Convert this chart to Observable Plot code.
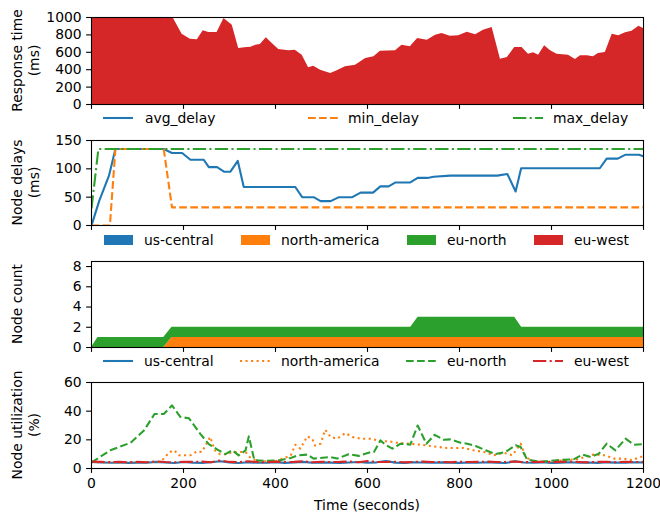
<!DOCTYPE html>
<html><head><meta charset="utf-8">
<script src="https://cdn.jsdelivr.net/npm/d3@7"></script>
<script src="https://cdn.jsdelivr.net/npm/@observablehq/plot@0.6"></script>
<style>
body{margin:0;background:#fff;}
#chart{position:relative;width:660px;height:514px;font-family:"DejaVu Sans";}
#chart svg text{font-family:"DejaVu Sans";font-size:13.9px;}
</style></head><body><div id="chart"></div>
<script>
// ---------- data ----------
const regions = ["us-central", "north-america", "eu-north", "eu-west"];
const regionColors = ["#1f77b4", "#ff7f0e", "#2ca02c", "#d62728"];
const xTicks = [0, 200, 400, 600, 800, 1000, 1200];

// Panel 1: response time (ms)
const respT = [0,20,40,60,80,100,120,145,157,175,197,215,230,243,255,273,288,306,320,338,347,357,367,380,393,407,429,443,458,472,483,498,520,534,552,574,596,614,628,661,675,693,709,730,748,762,780,798,817,835,852,871,889,904,920,936,950,961,972,985,998,1012,1037,1052,1063,1078,1091,1102,1117,1132,1146,1161,1175,1190,1200];
const respV = [1150,1150,1150,1150,1150,1150,1150,1150,985,1020,808,751,743,847,828,828,988,912,644,655,659,682,690,766,701,632,617,625,567,421,441,395,356,387,433,452,529,548,613,617,682,663,759,739,797,816,785,789,831,801,854,885,521,540,655,655,579,594,567,674,617,579,567,517,559,559,548,586,598,808,789,824,843,900,874];
const respTicks = [0, 200, 400, 600, 800, 1000];

// Panel 2: node delays (ms)
const avgT = [0,17,38,52,157,175,197,215,244,255,273,288,302,318,331,443,458,483,498,520,538,567,585,612,628,646,661,693,709,730,744,780,882,904,922,934,1105,1120,1144,1161,1190,1200];
const avgV = [0,44,88,135,135,128,128,116,116,103,103,95,95,114,68,68,50,50,43,43,50,50,58,58,69,69,76,76,84,84,86,88,88,91,60,101,101,118,118,125,125,122];
const minT = [0,40,52,157,175,1200];
const minV = [0,0,135,135,32,32];
const maxT = [0,15,1200];
const maxV = [30,135,135];
const delayTicks = [0, 50, 100, 150];

// Panel 3: node count (stacked)
const countT = [0,14,157,175,694,710,920,935,1200];
const countUsCentral = [0,0,0,0,0,0,0,0,0];
const countNorthAmerica = [0,0,0,1,1,1,1,1,1];
const countEuNorth = [0,1,1,1,1,2,2,1,1];
const countEuWest = [0,0,0,0,0,0,0,0,0];
const countTicks = [0, 2, 4, 6, 8];

// Panel 4: node utilization (%)
const utilT = [0,20,40,60,80,100,120,140,160,180,200,220,240,260,280,300,320,340,360,380,400,420,440,460,480,500,520,540,560,580,600,620,640,660,680,700,720,740,760,780,800,820,840,860,880,900,920,940,960,980,1000,1020,1040,1060,1080,1100,1120,1140,1160,1180,1200];
const utilUsCentral = [4.5,4.3,4.0,4.2,3.9,4.1,4.0,4.6,4.2,3.8,4.5,4.1,3.9,4.4,5.0,4.2,3.8,4.3,4.1,4.0,4.4,3.9,4.2,4.6,4.0,4.3,4.1,3.8,4.2,4.5,4.0,4.3,5.2,4.1,3.9,4.4,4.2,4.0,4.3,4.1,3.9,4.2,4.0,4.4,4.1,3.8,5.0,4.2,4.0,4.3,3.9,4.1,4.4,4.0,4.2,3.9,4.3,4.1,4.0,4.4,4.2];
const utilEuWest = [4.8,4.6,4.5,4.7,4.3,4.6,4.4,4.9,4.5,4.3,4.7,4.6,4.8,4.4,5.6,4.6,4.4,5.0,4.5,4.3,4.8,4.5,4.6,5.0,4.4,4.7,4.5,4.6,4.9,4.4,5.2,4.6,4.5,4.7,4.3,4.6,4.8,4.5,4.6,4.4,4.7,4.5,4.6,4.8,4.5,4.6,4.9,4.4,4.5,4.7,4.4,4.6,4.8,4.5,4.3,4.6,4.7,4.4,4.6,4.5,4.6];
const naT = [0,40,80,120,150,170,180,190,205,215,230,240,246,258,268,279,293,307,320,335,344,360,400,433,443,454,469,480,486,498,508,520,534,552,567,585,607,628,646,664,693,715,737,773,809,831,853,875,896,915,933,944,962,991,1027,1056,1092,1117,1136,1157,1175,1200];
const naV = [4.5,4.2,4.3,4.4,4.6,11.5,12.7,9.2,9.2,9.2,12,11.5,15,22,12.7,10,10,11.5,11.5,11.5,8,5,5,9,16.6,13.8,22.4,20.8,16,17.3,27,22,20.8,24.7,22,20.8,20.8,19,19,18,17.3,16.6,15.7,14.3,14.3,12.7,11.5,9.2,11,9.2,17.3,8,4.6,4.6,5.8,6.5,9.7,9.2,6.9,6.9,5.8,8.8];
const enT = [0,41,85,114,137,157,175,193,212,237,255,273,291,306,320,335,342,354,382,411,433,450,469,483,520,534,559,581,607,614,628,639,654,672,693,709,728,746,766,780,802,817,835,857,878,900,922,933,947,976,1012,1049,1067,1085,1103,1120,1139,1161,1179,1200];
const enV = [4.2,12.7,18,26.5,38,38,44,36,35,24,17,13.4,10,12.7,9.2,12.7,22.4,5.8,5.3,5.8,7.4,9.2,9.7,6.9,8,6.9,10,8.8,11.5,11.5,19.6,16.6,13.8,17.3,16.6,30,17.3,23.5,20,20.3,18,17.3,15.7,12.7,10,11.5,16.2,15,6.2,4.6,5.8,6.5,9.7,8,10.4,17.3,12.7,20.8,16.6,17];
const utilTicks = [0, 20, 40, 60];

// ---------- helpers ----------
const FONT = "DejaVu Sans";
const FS = 13.9;
const LW = 2.08;
const DASHED = "7.7,3.33";
const DASHDOT = "13.3,3.33,2.08,3.33";
const DOTTED = "2.08,3.44";
const pts = (T, V) => T.map((t, i) => ({t, v: V[i]}));
const chart = document.getElementById("chart");

function panel({frameTop, frameH, yDomain, yTicks, marks, xLabels}) {
  const mt = 6, mb = xLabels ? 30 : 10;
  const p = Plot.plot({
    width: 660,
    height: mt + frameH + mb,
    marginLeft: 91, marginRight: 17, marginTop: mt, marginBottom: mb,
    style: {fontFamily: FONT, fontSize: FS + "px", background: "transparent", overflow: "visible", color: "black"},
    x: {domain: [0, 1200]},
    y: {domain: yDomain},
    marks: [
      ...marks,
      Plot.frame({stroke: "black", strokeWidth: 1.1}),
      Plot.axisY({ticks: yTicks, tickSize: 4.9, tickPadding: 4.9, label: null, fontSize: FS, strokeWidth: 1.1,
                  tickFormat: d => String(d)}),
      Plot.axisX({ticks: xTicks, tickSize: 4.9, tickPadding: 4.9, label: null, fontSize: FS, strokeWidth: 1.1,
                  tickFormat: xLabels ? (d => String(d)) : (() => "")})
    ]
  });
  p.style.position = "absolute";
  p.style.left = "0px";
  p.style.top = (frameTop - mt) + "px";
  chart.appendChild(p);
}

// Panel 1
panel({
  frameTop: 17, frameH: 87, yDomain: [0, 1000], yTicks: respTicks,
  marks: [Plot.areaY(pts(respT, respV), {x: "t", y: "v", fill: "#d62728", clip: true})]
});

// Panel 2
panel({
  frameTop: 140, frameH: 85, yDomain: [0, 150], yTicks: delayTicks,
  marks: [
    Plot.line(pts(avgT, avgV), {x: "t", y: "v", stroke: "#1f77b4", strokeWidth: LW, clip: true}),
    Plot.line(pts(minT, minV), {x: "t", y: "v", stroke: "#ff7f0e", strokeWidth: LW, strokeDasharray: DASHED, strokeLinecap: "butt", clip: true}),
    Plot.line(pts(maxT, maxV), {x: "t", y: "v", stroke: "#2ca02c", strokeWidth: LW, strokeDasharray: DASHDOT, strokeLinecap: "butt", clip: true})
  ]
});

// Panel 3
const countSeries = [countUsCentral, countNorthAmerica, countEuNorth, countEuWest];
const countData = [];
regions.forEach((r, k) => countT.forEach((t, i) => countData.push({t, v: countSeries[k][i], region: r})));
panel({
  frameTop: 261, frameH: 86, yDomain: [0, 8.5], yTicks: countTicks,
  marks: [Plot.areaY(countData, {x: "t", y: "v", z: "region", fill: d => regionColors[regions.indexOf(d.region)], clip: true})]
});

// Panel 4
panel({
  frameTop: 382, frameH: 86, yDomain: [0, 60], yTicks: utilTicks, xLabels: true,
  marks: [
    Plot.line(pts(utilT, utilUsCentral), {x: "t", y: "v", stroke: "#1f77b4", strokeWidth: LW, clip: true}),
    Plot.line(pts(naT, naV), {x: "t", y: "v", stroke: "#ff7f0e", strokeWidth: LW, strokeDasharray: DOTTED, strokeLinecap: "butt", clip: true}),
    Plot.line(pts(enT, enV), {x: "t", y: "v", stroke: "#2ca02c", strokeWidth: LW, strokeDasharray: DASHED, strokeLinecap: "butt", clip: true}),
    Plot.line(pts(utilT, utilEuWest), {x: "t", y: "v", stroke: "#d62728", strokeWidth: LW, strokeDasharray: DASHDOT, strokeLinecap: "butt", clip: true})
  ]
});

// ---------- overlay: axis titles and legends ----------
const ov = d3.select(chart).append("svg")
  .attr("width", 660).attr("height", 514)
  .style("position", "absolute").style("left", "0px").style("top", "0px")
  .style("font-family", FONT).style("font-size", FS + "px");

function yTitle(lines, cy) {
  const xs = lines.length === 2 ? [17, 33.5] : [17];
  lines.forEach((s, i) => {
    ov.append("text").attr("transform", `translate(${xs[i]},${cy}) rotate(-90)`)
      .attr("text-anchor", "middle").attr("dominant-baseline", "central").attr("fill", "black").text(s);
  });
}
yTitle(["Response time", "(ms)"], 60.5);
yTitle(["Node delays", "(ms)"], 182.5);
yTitle(["Node count"], 304);
yTitle(["Node utilization", "(%)"], 425);
ov.append("text").attr("x", 367).attr("y", 505).attr("text-anchor", "middle")
  .attr("dominant-baseline", "central").attr("fill", "black").text("Time (seconds)");

function legend(items, y) {
  items.forEach(it => {
    if (it.patch) {
      ov.append("rect").attr("x", it.sx).attr("y", y - 5).attr("width", 29).attr("height", 10).attr("fill", it.color);
    } else {
      ov.append("line").attr("x1", it.sx).attr("x2", it.sx + 30).attr("y1", y).attr("y2", y)
        .attr("stroke", it.color).attr("stroke-width", LW).attr("stroke-dasharray", it.dash || null);
    }
    ov.append("text").attr("x", it.tx).attr("y", y).attr("dominant-baseline", "central").attr("fill", "black").text(it.label);
  });
}
const delayLabels = ["avg_delay", "min_delay", "max_delay"];
legend([
  {label: delayLabels[0], color: "#1f77b4", sx: 103, tx: 145},
  {label: delayLabels[1], color: "#ff7f0e", dash: DASHED, sx: 308, tx: 348},
  {label: delayLabels[2], color: "#2ca02c", dash: DASHDOT, sx: 513, tx: 553}
], 118);
const sxs = [104, 241, 407, 534], txs = [144, 281, 447, 574];
legend(regions.map((r, i) => ({label: r, color: regionColors[i], patch: true, sx: sxs[i], tx: txs[i]})), 240);
const dashes = [null, DOTTED, DASHED, DASHDOT];
legend(regions.map((r, i) => ({label: r, color: regionColors[i], dash: dashes[i], sx: sxs[i] - 1, tx: txs[i]})), 361);
</script></body></html>
